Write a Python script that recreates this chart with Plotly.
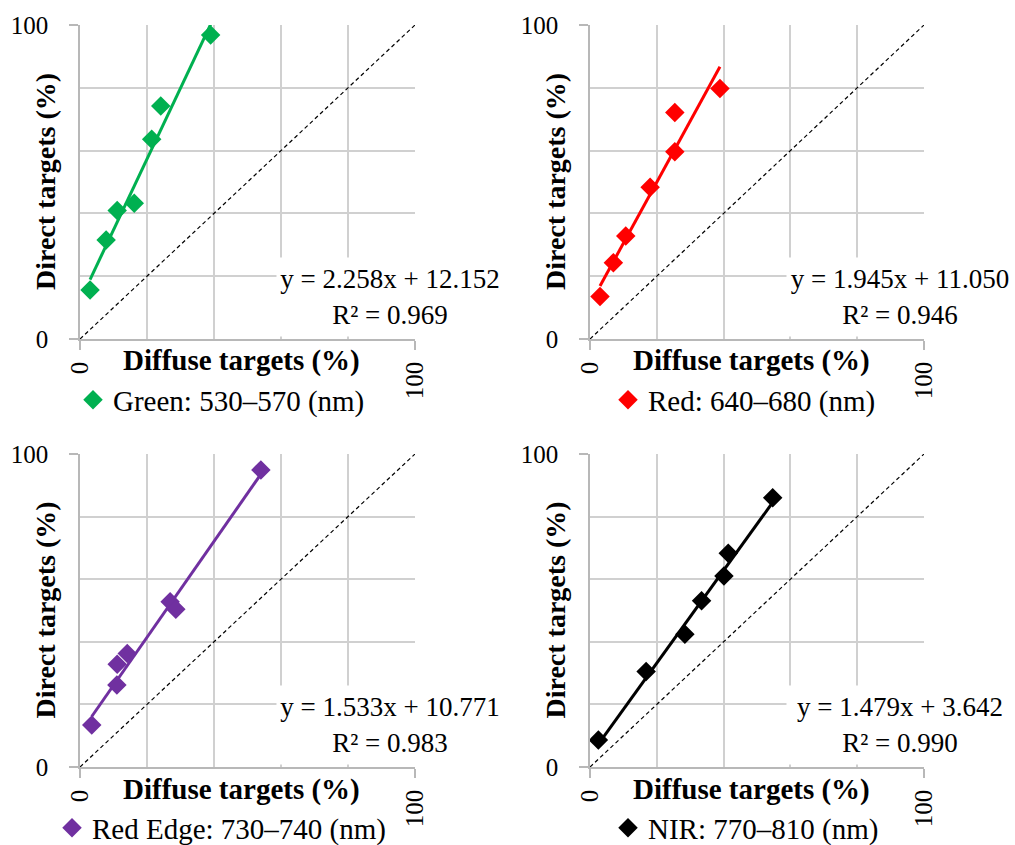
import plotly.graph_objects as go

# ---------------- data ----------------
green_x = [3.0, 7.8, 11.1, 16.2, 21.4, 24.1, 39.0]
green_y = [15.6, 31.5, 40.9, 43.2, 63.6, 74.2, 96.8]
red_x = [3.0, 7.0, 10.7, 18.0, 25.4, 25.4, 38.9]
red_y = [13.5, 24.3, 32.8, 48.3, 59.6, 72.1, 79.8]
rededge_x = [3.5, 11.0, 11.1, 14.1, 26.9, 28.6, 54.0]
rededge_y = [13.4, 26.2, 32.8, 36.3, 52.8, 50.4, 94.9]
nir_x = [2.5, 16.8, 28.4, 33.4, 40.1, 41.4, 54.7]
nir_y = [8.6, 30.5, 42.4, 53.1, 61.0, 68.3, 86.0]

band_names = ["Green: 530–570 (nm)", "Red: 640–680 (nm)",
              "Red Edge: 730–740 (nm)", "NIR: 770–810 (nm)"]
slopes = [2.258, 1.945, 1.533, 1.479]
intercepts = [12.152, 11.050, 10.771, 3.642]
r_squared = [0.969, 0.946, 0.983, 0.990]
tick_values = [0, 100]
tick_labels = ["0", "100"]
x_title = "Diffuse targets (%)"
y_title = "Direct targets (%)"

# ---------------- styling ----------------
W, H = 1015, 845
FONT = "Liberation Serif, DejaVu Serif, serif"
colors = ["#00B050", "#FF0000", "#7030A0", "#000000"]
grid_col = "#D0D0D0"
axis_col = "#B8B8B8"
# plot rectangles in pixels: (left, right, top, bottom)
rects = [(80, 415, 25, 339), (590, 924, 25, 339),
         (80, 415, 454, 767), (590, 924, 454, 767)]
legend_text_x = [113, 648, 92, 648]
legend_y = [400, 400, 828, 828]

xs = [green_x, red_x, rededge_x, nir_x]
ys = [green_y, red_y, rededge_y, nir_y]


def px(x):
    return x / W


def py(y):
    return 1 - y / H


fig = go.Figure()
layout = dict(width=W, height=H,
              margin=dict(l=0, r=0, t=0, b=0, autoexpand=False),
              paper_bgcolor="white", plot_bgcolor="white",
              font=dict(family=FONT, color="black", size=25),
              annotations=[])

for i in range(4):
    sfx = "" if i == 0 else str(i + 1)
    xa, ya = "x" + sfx, "y" + sfx
    L, R, T, B = rects[i]
    leg = "legend" if i == 0 else "legend" + str(i + 1)

    # 1:1 dashed line
    fig.add_trace(go.Scatter(x=[0, 100], y=[0, 100], mode="lines",
                             line=dict(color="black", width=1.2, dash="4px,3px"),
                             xaxis=xa, yaxis=ya, showlegend=False, hoverinfo="skip"))
    # trend line
    x0, x1 = min(xs[i]), max(xs[i])
    fig.add_trace(go.Scatter(x=[x0, x1],
                             y=[slopes[i] * x0 + intercepts[i], slopes[i] * x1 + intercepts[i]],
                             mode="lines", line=dict(color=colors[i], width=3),
                             xaxis=xa, yaxis=ya, showlegend=False, hoverinfo="skip"))
    # points
    fig.add_trace(go.Scatter(x=xs[i], y=ys[i], mode="markers", name=band_names[i],
                             marker=dict(symbol="diamond", size=15, color=colors[i]),
                             xaxis=xa, yaxis=ya, showlegend=True, legend=leg))

    common = dict(range=[0, 100], tickvals=tick_values, ticktext=tick_labels,
                  showgrid=True, gridcolor=grid_col, gridwidth=1.5,
                  minor=dict(dtick=20, tick0=0, showgrid=True, gridcolor=grid_col,
                             gridwidth=1.5, ticks=""),
                  showline=True, linecolor=axis_col, linewidth=1.5,
                  ticks="outside", ticklen=9, tickcolor=axis_col, tickwidth=1.5,
                  zeroline=False, automargin=False,
                  tickfont=dict(family=FONT, size=25, color="black"),
                  fixedrange=True)
    layout["xaxis" + sfx] = dict(common, domain=[px(L), px(R)], anchor=ya,
                                 tickangle=-90, ticklabelstandoff=2)
    layout["yaxis" + sfx] = dict(common, domain=[py(B), py(T)], anchor=xa,
                                 ticklabelstandoff=16)

    # legend
    layout[leg] = dict(x=px(legend_text_x[i] - 40), y=py(legend_y[i]),
                       xanchor="left", yanchor="middle", bgcolor="rgba(0,0,0,0)",
                       font=dict(family=FONT, size=29, color="black"),
                       itemsizing="trace")

    # axis titles
    layout["annotations"].append(dict(
        text="<b>" + x_title + "</b>", x=px(L + 161), y=py(B + 22),
        xref="paper", yref="paper", xanchor="center", yanchor="middle",
        showarrow=False, font=dict(family=FONT, size=29, color="black")))
    layout["annotations"].append(dict(
        text="<b>" + y_title + "</b>", x=px(L - 35), y=py((T + B) / 2),
        xref="paper", yref="paper", xanchor="center", yanchor="middle",
        textangle=-90, showarrow=False, font=dict(family=FONT, size=28, color="black")))
    # equation box
    eq = "y = %.3fx + %.3f<br>R² = %.3f" % (slopes[i], intercepts[i], r_squared[i])
    layout["annotations"].append(dict(
        text=eq, x=px(L + 310), y=py(B - 42), xref="paper", yref="paper",
        xanchor="center", yanchor="middle", showarrow=False,
        width=226, height=78, bgcolor="white", borderpad=0,
        font=dict(family=FONT, size=27, color="black")))

fig.update_layout(**layout)
fig.write_html("out.html", config={"displayModeBar": False},
               post_script="document.body.style.margin='0';")
